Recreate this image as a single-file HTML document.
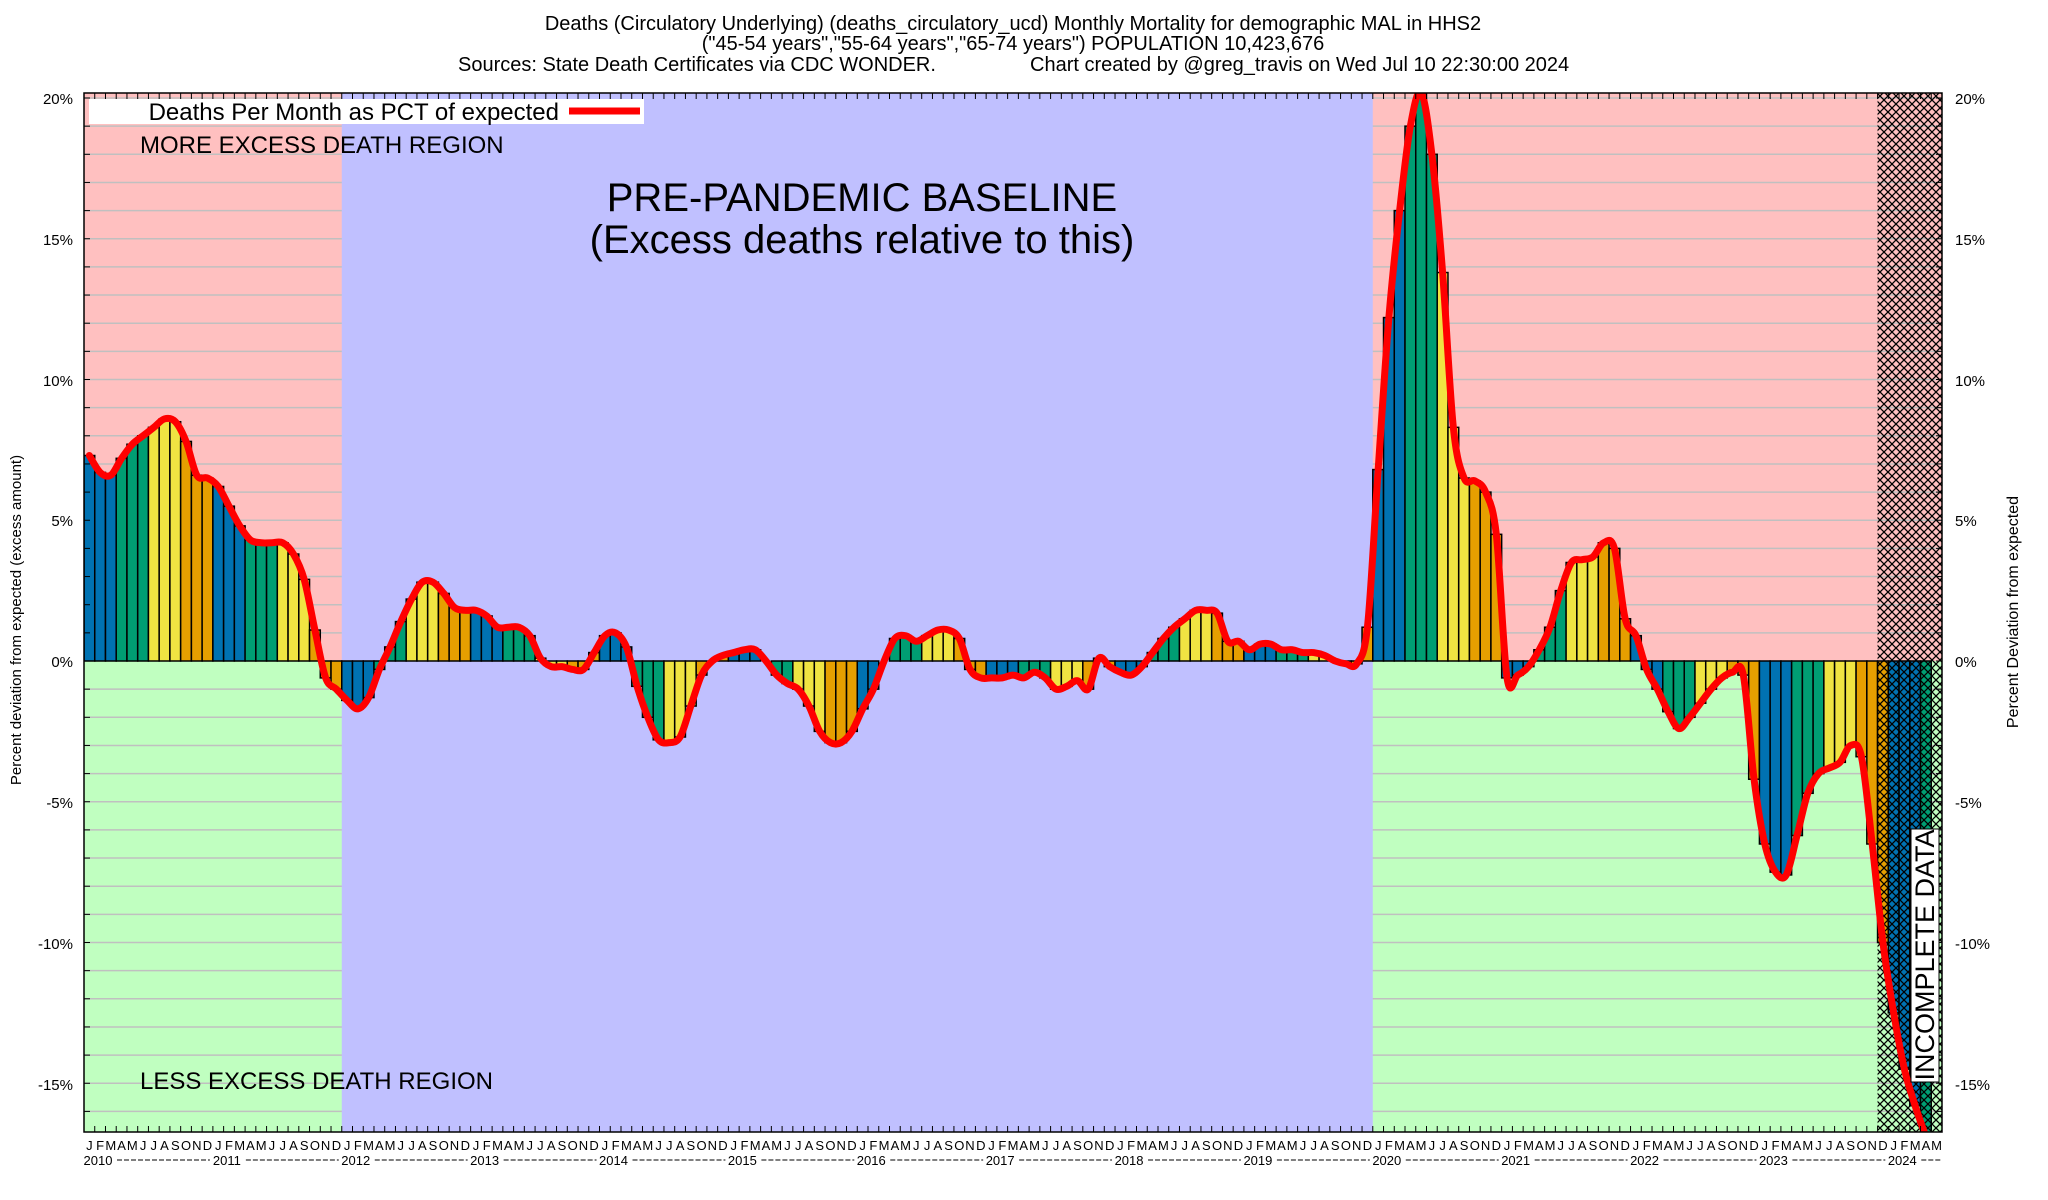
<!DOCTYPE html>
<html><head><meta charset="utf-8"><style>
html,body{margin:0;padding:0;background:#fff;}
svg{display:block;font-family:"Liberation Sans",Arial,sans-serif;}
</style></head><body>
<svg id="s" width="2048" height="1200" viewBox="0 0 2048 1200" xmlns="http://www.w3.org/2000/svg">
<defs>
<pattern id="hatch" width="8" height="8" patternUnits="userSpaceOnUse">
<path d="M0,0 L8,8 M8,0 L0,8" stroke="#000" stroke-width="1.3"/>
</pattern>
<clipPath id="pc"><rect x="84" y="93" width="1858" height="1039"/></clipPath>
</defs>
<g font-size="20" text-anchor="middle" fill="#000">
<text x="1013" y="30">Deaths (Circulatory Underlying) (deaths_circulatory_ucd) Monthly Mortality for demographic MAL in HHS2</text>
<text x="1013" y="50">("45-54 years","55-64 years","65-74 years") POPULATION 10,423,676</text>
<text x="458" y="71" text-anchor="start">Sources: State Death Certificates via CDC WONDER.</text>
<text x="1030" y="71" text-anchor="start">Chart created by @greg_travis on Wed Jul 10 22:30:00 2024</text>
</g>
<g clip-path="url(#pc)">
<rect x="84" y="93" width="1858" height="568" fill="#ffc0c0"/>
<rect x="84" y="661" width="1858" height="471" fill="#c0ffc0"/>
<g id="grid"></g>
<rect id="blue" fill="#c0c0ff" y="93" height="1039"/>
<g id="bars"></g>
<rect id="hat" y="93" height="1039" fill="url(#hatch)"/>
<path id="line" fill="none" stroke="#ff0000" stroke-width="7" stroke-linejoin="round" stroke-linecap="round"/>
</g>
<g id="ticks" stroke="#000" stroke-width="1"></g>
<rect x="84" y="93" width="1858" height="1039" fill="none" stroke="#000" stroke-width="1.5"/>
<rect x="89" y="99" width="555" height="25" fill="#fff"/>
<text x="559" y="120" font-size="24" text-anchor="end">Deaths Per Month as PCT of expected</text>
<line x1="569" y1="111" x2="640" y2="111" stroke="#ff0000" stroke-width="7"/>
<text x="140" y="153" font-size="24">MORE EXCESS DEATH REGION</text>
<text x="140" y="1089" font-size="24">LESS EXCESS DEATH REGION</text>
<text x="862" y="211" font-size="40" text-anchor="middle">PRE-PANDEMIC BASELINE</text>
<text x="862" y="253" font-size="40" text-anchor="middle">(Excess deaths relative to this)</text>
<rect x="1911" y="829" width="28" height="253" fill="#fff" stroke="#000" stroke-width="1"/>
<text transform="translate(1934,955) rotate(-90)" font-size="27" text-anchor="middle">INCOMPLETE DATA</text>
<g font-size="15" text-anchor="end">
<text x="73" y="104">20%</text><text x="73" y="245">15%</text><text x="73" y="386">10%</text><text x="73" y="526">5%</text><text x="73" y="667">0%</text><text x="73" y="808">-5%</text><text x="73" y="949">-10%</text><text x="73" y="1090">-15%</text>
</g>
<g font-size="15" text-anchor="start">
<text x="1955" y="104">20%</text><text x="1955" y="245">15%</text><text x="1955" y="386">10%</text><text x="1955" y="526">5%</text><text x="1955" y="667">0%</text><text x="1955" y="808">-5%</text><text x="1955" y="949">-10%</text><text x="1955" y="1090">-15%</text>
</g>
<text transform="translate(21,620) rotate(-90)" font-size="15" text-anchor="middle">Percent deviation from expected (excess amount)</text>
<text transform="translate(2018,612) rotate(-90)" font-size="16" text-anchor="middle">Percent Deviation from expected</text>
<g id="months" font-size="13" text-anchor="middle">
<text>JFMAMJJASOND</text><text>JFMAMJJASOND</text><text>JFMAMJJASOND</text><text>JFMAMJJASOND</text><text>JFMAMJJASOND</text><text>JFMAMJJASOND</text><text>JFMAMJJASOND</text><text>JFMAMJJASOND</text><text>JFMAMJJASOND</text><text>JFMAMJJASOND</text><text>JFMAMJJASOND</text><text>JFMAMJJASOND</text><text>JFMAMJJASOND</text><text>JFMAMJJASOND</text><text>JFMAM</text>
</g>
<g id="years" font-size="13" text-anchor="middle">
<text>2010</text><text>2011</text><text>2012</text><text>2013</text><text>2014</text><text>2015</text><text>2016</text><text>2017</text><text>2018</text><text>2019</text><text>2020</text><text>2021</text><text>2022</text><text>2023</text><text>2024</text>
</g>
<g id="dash" stroke="#000" stroke-width="1" stroke-dasharray="5,2"></g>
</svg>
<script>
var v=[7.3,6.7,6.6,7.2,7.7,8.0,8.3,8.6,8.5,7.8,6.6,6.5,
6.2,5.5,4.8,4.3,4.2,4.2,4.2,3.8,2.9,1.1,-0.6,-1.0,
-1.4,-1.7,-1.3,-0.3,0.5,1.4,2.2,2.8,2.8,2.4,1.9,1.8,
1.8,1.6,1.2,1.2,1.2,0.9,0.1,-0.2,-0.2,-0.3,-0.3,0.3,
0.9,1.0,0.5,-0.9,-2.0,-2.8,-2.9,-2.7,-1.6,-0.5,
0.0,0.2,0.3,0.4,0.4,0.0,-0.5,-0.8,-1.0,-1.6,-2.5,-2.9,
-2.9,-2.5,-1.7,-1.0,0.0,0.8,0.9,0.7,0.9,1.1,1.1,0.8,
-0.3,-0.6,-0.6,-0.6,-0.5,-0.6,-0.4,-0.6,-1.0,-0.9,-0.7,-1.0,
0.1,-0.2,-0.4,-0.5,-0.2,0.3,0.8,1.2,1.5,1.8,1.8,1.7,
0.7,0.7,0.4,0.6,0.6,0.4,0.4,0.3,0.3,0.2,0.0,-0.1,-0.1,1.2,
6.8,12.2,16.0,19.0,20.2,18.0,13.8,8.3,6.5,6.4,6.0,4.5,
-0.6,-0.5,-0.2,0.4,1.2,2.5,3.5,3.6,3.7,4.2,4.0,1.5,
0.9,-0.3,-1.0,-1.8,-2.4,-2.0,-1.5,-1.0,-0.6,-0.4,-0.5,-4.2,
-6.5,-7.5,-7.6,-6.2,-4.7,-4.0,-3.8,-3.6,-3.0,-3.4,-6.5,
-10.0,-12.5,-14.5,-15.8,-16.9];
var NS="http://www.w3.org/2000/svg";
var W=1858/173;
function X(i){return 84+W*i;}
function Y(p){return 661-28.15*p;}
function el(t,a,p){var e=document.createElementNS(NS,t);for(var k in a)e.setAttribute(k,a[k]);p.appendChild(e);return e;}
var bl=document.getElementById('blue');bl.setAttribute('x',X(24));bl.setAttribute('width',X(120)-X(24));
var ht=document.getElementById('hat');ht.setAttribute('x',X(167));ht.setAttribute('width',1942-X(167));
var g=document.getElementById('grid');
for(var p=-16;p<=20;p++){if(p==0)continue;el('line',{x1:84,x2:1942,y1:Y(p),y2:Y(p),stroke:'#c0c0c0','stroke-width':1.5},g);}
var cols=['#0072b2','#009e73','#f0e442','#e69f00'];
var b=document.getElementById('bars');
for(var i=0;i<v.length;i++){var y0=Y(0),y1=Y(v[i]);
el('rect',{x:X(i),y:Math.min(y0,y1),width:W,height:Math.abs(y1-y0),fill:cols[Math.floor((i%12)/3)],stroke:'#000','stroke-width':1.5},b);}
var pts=v.map(function(p,i){return [X(i)+W/2,Y(p)];});
var d='M'+pts[0][0]+','+pts[0][1];
for(var i=0;i<pts.length-1;i++){var p0=pts[Math.max(i-1,0)],p1=pts[i],p2=pts[i+1],p3=pts[Math.min(i+2,pts.length-1)];
d+=' C'+(p1[0]+(p2[0]-p0[0])/6)+','+(p1[1]+(p2[1]-p0[1])/6)+' '+(p2[0]-(p3[0]-p1[0])/6)+','+(p2[1]-(p3[1]-p1[1])/6)+' '+p2[0]+','+p2[1];}
document.getElementById('line').setAttribute('d',d);
var t=document.getElementById('ticks');
for(var i=0;i<=173;i++){el('line',{x1:X(i),x2:X(i),y1:93,y2:99},t);el('line',{x1:X(i),x2:X(i),y1:1132,y2:1126},t);}
for(var p=-16;p<=20;p++){el('line',{x1:84,x2:90,y1:Y(p),y2:Y(p)},t);el('line',{x1:1942,x2:1936,y1:Y(p),y2:Y(p)},t);}
var ms=document.getElementById('months').children;
for(var yr=0;yr<ms.length;yr++){var n=ms[yr].textContent.length,xs=[];for(var k=0;k<n;k++)xs.push((X(yr*12+k)+W/2).toFixed(1));
ms[yr].setAttribute('x',xs.join(' '));ms[yr].setAttribute('y',1150);}
var ys=document.getElementById('years').children,dg=document.getElementById('dash');
for(var yr=0;yr<ys.length;yr++){var cx=X(yr*12)+14;ys[yr].setAttribute('x',cx);ys[yr].setAttribute('y',1165);
var end=yr<ys.length-1?X(yr*12+12)-3:1942;el('line',{x1:cx+19,x2:end,y1:1160,y2:1160},dg);}
</script>
</body></html>
